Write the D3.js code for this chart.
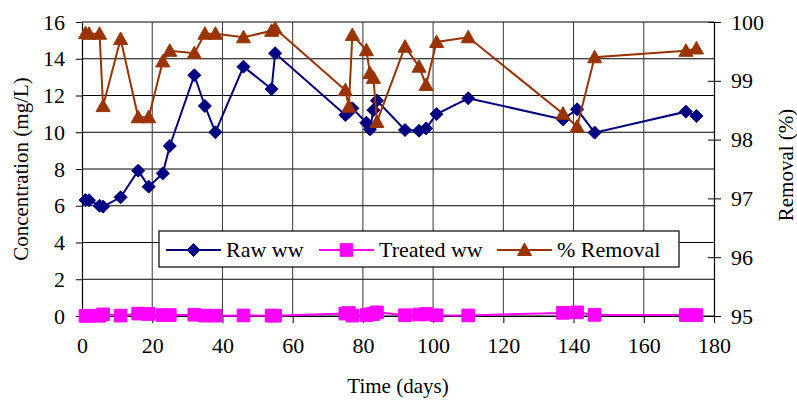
<!DOCTYPE html>
<html>
<head>
<meta charset="utf-8">
<script src="https://d3js.org/d3.v7.min.js"></script>
<style>
  body { margin: 0; background: #fff; }
  text { font-family: "Liberation Serif", "Times New Roman", serif; fill: #000; }
</style>
</head>
<body>
<div id="chart"></div>
<script>
// sampling days
var days = [1, 2, 5, 6, 11, 16, 19, 23, 25, 32, 35, 38, 46, 54, 55,
            75, 76, 77, 81, 82, 83, 84, 92, 96, 98, 101, 110,
            137, 141, 146, 172, 175];

// concentration, mg/L
var rawWW = [6.31, 6.3, 6.0, 5.95, 6.46, 7.91, 7.04, 7.76, 9.25, 13.1, 11.43, 10.0, 13.57, 12.35, 14.3,
             10.94, 11.1, 11.3, 10.52, 10.16, 11.2, 11.72, 10.12, 10.08, 10.21, 10.99, 11.85,
             10.7, 11.25, 9.98, 11.12, 10.88];
var treatedWW = [0.01, 0.01, 0.01, 0.09, 0.02, 0.13, 0.11, 0.05, 0.05, 0.07, 0.02, 0.02, 0.03, 0.02, 0.02,
                 0.13, 0.16, 0.02, 0.05, 0.09, 0.11, 0.2, 0.04, 0.08, 0.11, 0.04, 0.03,
                 0.17, 0.2, 0.06, 0.05, 0.05];
// removal, %
var removal = [99.81, 99.8, 99.8, 98.57, 99.71, 98.38, 98.38, 99.33, 99.51, 99.47, 99.8, 99.8, 99.74, 99.85, 99.89,
               98.84, 98.56, 99.78, 99.52, 99.13, 99.05, 98.3, 99.58, 99.24, 98.93, 99.66, 99.74,
               98.44, 98.22, 99.4, 99.51, 99.55];

var xTicks = [0, 20, 40, 60, 80, 100, 120, 140, 160, 180];
var yTicks = [0, 2, 4, 6, 8, 10, 12, 14, 16];
var y2Ticks = [95, 96, 97, 98, 99, 100];

var w = 797, h = 401;
var pl = 82, pr = 714, pt = 22, pb = 316;

var svg = d3.select("#chart").append("svg")
    .attr("width", w)
    .attr("height", h)
    .attr("xmlns", "http://www.w3.org/2000/svg");

var x = d3.scaleLinear().domain([0, 180]).range([pl, pr]);
var y = d3.scaleLinear().domain([0, 16]).range([pb, pt]);
var y2 = d3.scaleLinear().domain([95, 100]).range([pb, pt]);

// gridlines
svg.append("g").selectAll("line")
    .data(yTicks)
  .enter().append("line")
    .attr("x1", pl).attr("x2", pr)
    .attr("y1", function(d) { return y(d); })
    .attr("y2", function(d) { return y(d); })
    .attr("stroke", "#000").attr("stroke-width", 1);

svg.append("g").selectAll("line")
    .data(xTicks.slice(1, -1))
  .enter().append("line")
    .attr("x1", function(d) { return x(d); })
    .attr("x2", function(d) { return x(d); })
    .attr("y1", pt).attr("y2", pb)
    .attr("stroke", "#333").attr("stroke-width", 1);

// axes
var xAxis = svg.append("g")
    .attr("transform", "translate(0," + pb + ")")
    .call(d3.axisBottom(x).tickValues(xTicks).tickSize(7).tickPadding(14).tickSizeOuter(0));

var yAxis = svg.append("g")
    .attr("transform", "translate(" + pl + ",0)")
    .call(d3.axisLeft(y).tickValues(yTicks).tickSize(6).tickPadding(11).tickSizeOuter(0));

var y2Axis = svg.append("g")
    .attr("transform", "translate(" + pr + ",0)")
    .call(d3.axisRight(y2).tickValues(y2Ticks).tickFormat(d3.format("d"))
      .tickSize(7).tickPadding(10).tickSizeOuter(0));

y2Axis.selectAll(".tick line").attr("x1", -6);

[xAxis, yAxis, y2Axis].forEach(function(a) {
  a.select(".domain").attr("stroke", "#000").attr("stroke-width", 1.2);
  a.selectAll(".tick line").attr("stroke", "#000");
  a.selectAll("text")
      .style("font-family", "'Liberation Serif', serif")
      .style("font-size", "22px")
      .attr("fill", "#000");
});

// axis titles
svg.append("text")
    .attr("transform", "translate(28," + ((pt + pb) / 2) + ") rotate(-90)")
    .attr("text-anchor", "middle")
    .style("font-size", "21px")
    .text("Concentration (mg/L)");

svg.append("text")
    .attr("transform", "translate(793,165) rotate(-90)")
    .attr("text-anchor", "middle")
    .style("font-size", "21px")
    .text("Removal (%)");

svg.append("text")
    .attr("x", (pl + pr) / 2)
    .attr("y", 393)
    .attr("text-anchor", "middle")
    .style("font-size", "21px")
    .text("Time (days)");

// series
var navy = "#000080", magenta = "#ff00ff", brown = "#993300";

// squat diamond like the spreadsheet marker
var diamond = "M0,-6.5L6.5,0L0,6.5L-6.5,0Z";
var square = d3.symbol().type(d3.symbolSquare).size(160)();
var triangle = "M0,-7L7,5.5L-7,5.5Z";

function drawSeries(values, yScale, color, sym) {
  var line = d3.line()
      .x(function(d, i) { return x(days[i]); })
      .y(function(d) { return yScale(d); });

  svg.append("path")
      .datum(values)
      .attr("d", line)
      .attr("fill", "none")
      .attr("stroke", color)
      .attr("stroke-width", 2);

  svg.append("g").selectAll("path")
      .data(values)
    .enter().append("path")
      .attr("transform", function(d, i) { return "translate(" + x(days[i]) + "," + yScale(d) + ")"; })
      .attr("d", sym)
      .attr("fill", color)
      .attr("stroke", color)
      .attr("stroke-width", 1);
}

drawSeries(rawWW, y, navy, diamond);
drawSeries(treatedWW, y, magenta, square);
drawSeries(removal, y2, brown, triangle);

// legend
var legend = svg.append("g");
legend.append("rect")
    .attr("x", 159).attr("y", 231)
    .attr("width", 520).attr("height", 36)
    .attr("fill", "#fff")
    .attr("stroke", "#000")
    .attr("stroke-width", 1.2);

var legendItems = [
  { name: "Raw ww", color: navy, sym: diamond, x0: 166 },
  { name: "Treated ww", color: magenta, sym: square, x0: 319 },
  { name: "% Removal", color: brown, sym: triangle, x0: 497 }
];

legendItems.forEach(function(it) {
  legend.append("line")
      .attr("x1", it.x0).attr("x2", it.x0 + 55)
      .attr("y1", 250).attr("y2", 250)
      .attr("stroke", it.color).attr("stroke-width", 2);
  legend.append("path")
      .attr("transform", "translate(" + (it.x0 + 27.5) + ",250)")
      .attr("d", it.sym)
      .attr("fill", it.color)
      .attr("stroke", it.color);
  legend.append("text")
      .attr("x", it.x0 + 60)
      .attr("y", 257)
      .style("font-size", "22px")
      .text(it.name);
});
</script>
</body>
</html>
